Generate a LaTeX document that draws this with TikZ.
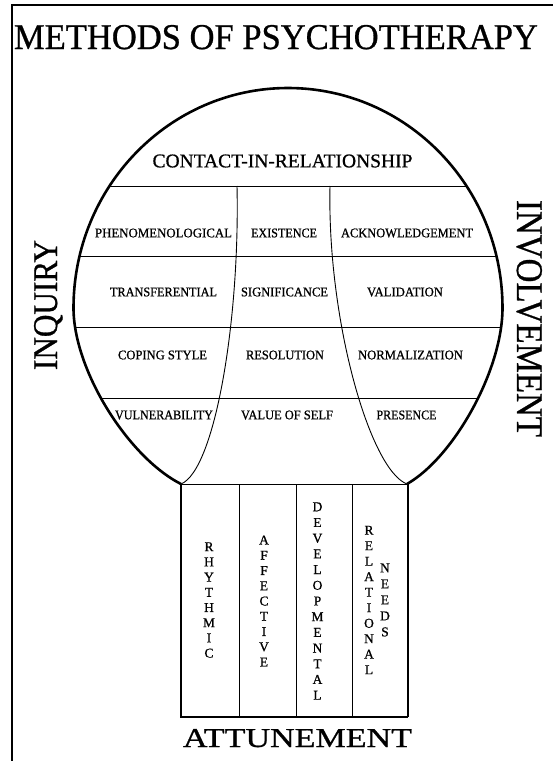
\documentclass[tikz,border=0pt]{standalone}
\usepackage{fontspec}
\setmainfont{Liberation Serif}
\newfontfamily\heavyserif[FakeBold=0.8]{Liberation Serif}
\usepackage{graphicx}
\newcommand{\fitlbl}[2]{\resizebox{#1pt}{8.8pt}{#2}}
\begin{document}
\begin{tikzpicture}[x=1pt,y=-1pt,
  outl/.style={line width=2.6pt, line join=round},
  thinline/.style={line width=0.9pt},
  lbl/.style={font=\heavyserif\fontsize{13}{15}\selectfont, inner sep=0pt},
  vlbl/.style={font=\heavyserif\fontsize{13.5}{#1}\selectfont, align=center, inner sep=0pt},
  big/.style={inner sep=0pt, font=\heavyserif}
]
\useasboundingbox (0,0) rectangle (553,761);
\fill[white] (0,0) rectangle (553,761);
% frame
\draw[line width=1.5pt] (12,761) -- (12,5) -- (553,5);

\coordinate (BL) at (181,484);
\coordinate (BR) at (407,484);
\def\outlinepath{(BL) .. controls (128,457) and (73.5,370) .. (73.5,308) arc[start angle=180, end angle=360, x radius=214.5, y radius=220] .. controls (502.5,370) and (454,457) .. (BR)}

% row lines clipped to balloon
\begin{scope}
\clip \outlinepath -- cycle;
\foreach \yy in {186,256,327,398} \draw[thinline] (40,\yy) -- (530,\yy);
\end{scope}

% inner curves
\draw[thinline] (BL) .. controls (215,470) and (240,320) .. (237,186);
\draw[thinline] (BR) .. controls (370,470) and (327,320) .. (330,186);

% stem
\draw[thinline] (BL) -- (BR);
\foreach \xx in {239,296,352} \draw[thinline] (\xx,484) -- (\xx,717);
\draw[line width=2.6pt, line join=miter] (181,484) -- (181,717) -- (408,717);
\draw[line width=2pt] (408,717) -- (408,484);

% balloon outline
\draw[outl] \outlinepath;

% titles
\node[big, anchor=base] (title) at (276,49) {\resizebox{524pt}{24pt}{METHODS OF PSYCHOTHERAPY}};
\node[big, anchor=base, rotate=90] (inquiry) at (57,305) {\resizebox{130pt}{23pt}{INQUIRY}};
\node[big, anchor=base, rotate=-90] (involvement) at (517,318.5) {\resizebox{237pt}{25pt}{INVOLVEMENT}};
\node[big, anchor=base] (attunement) at (297.5,747) {\resizebox{229pt}{18pt}{ATTUNEMENT}};

\node[inner sep=0pt, font=\heavyserif\fontsize{19.5}{21}\selectfont] (contact) at (282.5,161) {CONTACT-IN-RELATIONSHIP};

% grid labels
\node[lbl] (phen) at (163.5,233) {\fitlbl{137}{PHENOMENOLOGICAL}};
\node[lbl] (exist) at (284,233) {\fitlbl{66}{EXISTENCE}};
\node[lbl] (ack) at (407,233) {\fitlbl{132}{ACKNOWLEDGEMENT}};
\node[lbl] (trans) at (163.5,292) {\fitlbl{107}{TRANSFERENTIAL}};
\node[lbl] (signif) at (284.5,292) {\fitlbl{87}{SIGNIFICANCE}};
\node[lbl] (valid) at (405,292) {\fitlbl{76}{VALIDATION}};
\node[lbl] (coping) at (162.5,355) {\fitlbl{89}{COPING STYLE}};
\node[lbl] (resol) at (285,355) {\fitlbl{78}{RESOLUTION}};
\node[lbl] (normal) at (410.5,355) {\fitlbl{105}{NORMALIZATION}};
\node[lbl] (vuln) at (164,415) {\fitlbl{98}{VULNERABILITY}};
\node[lbl] (value) at (287,415) {\fitlbl{92}{VALUE OF SELF}};
\node[lbl] (presence) at (406.5,415) {\fitlbl{60}{PRESENCE}};

% stem labels
\node[vlbl=15.2] (rhythmic) at (209,600) {R\\H\\Y\\T\\H\\M\\I\\C};
\node[vlbl=15.25] (affective) at (264,601) {A\\F\\F\\E\\C\\T\\I\\V\\E};
\node[vlbl=15.7] (developmental) at (317.5,601) {D\\E\\V\\E\\L\\O\\P\\M\\E\\N\\T\\A\\L};
\node[vlbl=15.5] (relational) at (369,600) {R\\E\\L\\A\\T\\I\\O\\N\\A\\L};
\node[vlbl=16] (needs) at (385,600) {N\\E\\E\\D\\S};
\end{tikzpicture}
\end{document}
